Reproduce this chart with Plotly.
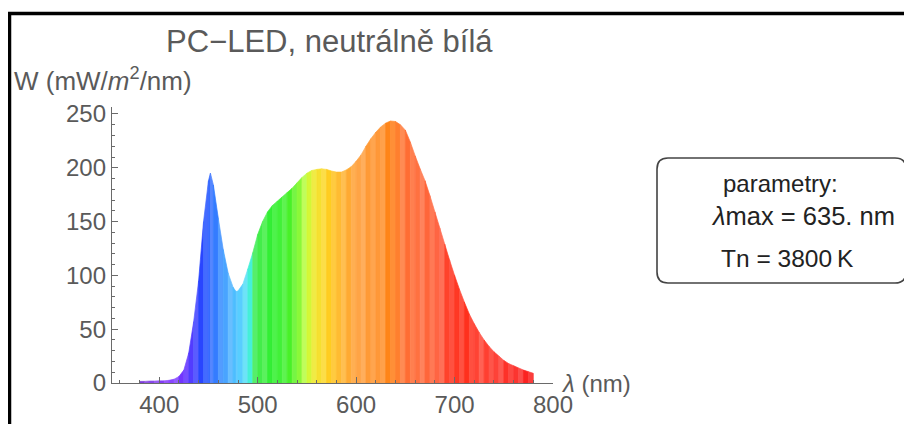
import plotly.graph_objects as go

# ---------------- data ----------------
wavelengths = [380, 385, 390, 395, 400, 405, 410, 415, 420, 425, 430, 435, 440, 445,
               450, 452, 455, 460, 465, 470, 475, 478, 480, 485, 490, 495, 500, 505,
               510, 515, 520, 525, 530, 535, 540, 545, 550, 555, 560, 565, 570, 575,
               580, 585, 590, 595, 600, 605, 610, 615, 620, 625, 630, 635, 640, 645,
               650, 655, 660, 665, 670, 675, 680, 685, 690, 695, 700, 705, 710, 715,
               720, 725, 730, 735, 740, 745, 750, 755, 760, 765, 770, 775, 780]
irradiance = [1.5, 1.5, 1.8, 1.8, 2, 2, 2.5, 3.5, 6, 12, 28, 57, 95, 150,
              188, 195, 184, 153, 124, 102, 89, 85, 85.5, 92, 106, 121, 138, 150,
              159, 165, 169, 173, 177, 181, 186, 191, 195, 197.5, 198.5, 199, 198.5, 197,
              196, 196, 198, 201, 206, 212, 220, 227, 233, 238, 241.5, 243.5, 243, 240,
              235, 224, 211, 199, 188, 174, 159, 144, 129, 114, 100, 87, 75, 64,
              55, 47, 40, 34, 29, 25, 21, 18, 16, 14, 12, 10.5, 9]
assert len(wavelengths) == len(irradiance)

title_text = "PC\u2212LED, neutrálně bílá"
y_title = "W (mW/<i>m</i><sup>2</sup>/nm)"
x_title = "<i>λ</i> (nm)"
box_lines = ["parametry:", "<i>λ</i>max = 635. nm", "Tn = 3800\u2009K"]

# ---------------- style ----------------
OFF = 8                      # page body margin
W, H = 912 - OFF, 424 - OFF
ML, MR, MT, MB = 112 - OFF, 359, 107 - OFF, 41
PW, PH = W - ML - MR, H - MT - MB
FONT = "Liberation Sans, Arial, sans-serif"
GRAY = "#5a5a5a"

# visible spectrum colour anchors (wavelength, rgb)
spec_anchor = [
    (380, (125, 60, 215)), (410, (135, 60, 255)), (425, (110, 50, 255)),
    (435, (60, 50, 255)), (445, (35, 75, 255)), (455, (50, 115, 255)),
    (465, (60, 150, 255)), (475, (75, 185, 255)), (485, (80, 210, 255)),
    (492, (70, 240, 230)), (498, (60, 235, 70)), (515, (50, 240, 50)),
    (530, (60, 240, 40)), (540, (110, 245, 40)), (550, (200, 255, 60)),
    (558, (240, 230, 40)), (570, (255, 210, 30)), (585, (255, 180, 40)),
    (600, (255, 160, 60)), (620, (255, 150, 50)), (635, (255, 130, 20)),
    (650, (255, 110, 50)), (680, (255, 100, 60)), (695, (255, 60, 40)),
    (705, (255, 40, 20)), (730, (255, 65, 50)), (780, (250, 30, 30)),
]


def spec_color(lam, k):
    for (l0, c0), (l1, c1) in zip(spec_anchor[:-1], spec_anchor[1:]):
        if l0 <= lam <= l1:
            t = (lam - l0) / (l1 - l0)
            c = [c0[j] + t * (c1[j] - c0[j]) for j in range(3)]
            break
    else:
        c = list(spec_anchor[-1][1])
    f = [0.0, 0.13, 0.05, 0.18][k % 4]
    c = [v + (255 - v) * f for v in c]
    return "rgb(%d,%d,%d)" % tuple(int(round(v)) for v in c)


def P(px, py):
    """page pixel -> paper coordinates"""
    return (px - OFF - ML) / PW, (H - MB - (py - OFF)) / PH


fig = go.Figure()
for i in range(len(wavelengths) - 1):
    x0, x1 = wavelengths[i], wavelengths[i + 1]
    y0, y1 = irradiance[i], irradiance[i + 1]
    col = spec_color((x0 + x1) / 2, i)
    fig.add_trace(go.Scatter(
        x=[x0, x1, x1, x0, x0], y=[y0, y1, 0, 0, y0],
        mode="lines", fill="toself", fillcolor=col,
        line=dict(width=0.7, color=col),
        hoverinfo="skip", showlegend=False))

axis_common = dict(showgrid=False, zeroline=False, showline=True, automargin=False,
                   linecolor="#6a6a6a", linewidth=1.3, ticks="inside",
                   tickcolor="#6a6a6a", tickwidth=1.1,
                   tickfont=dict(family=FONT, size=24, color=GRAY))
fig.update_xaxes(range=[352, 800], dtick=100, tick0=0, ticklen=6,
                 minor=dict(dtick=20, tick0=0, ticklen=3, ticks="inside",
                            tickcolor="#6a6a6a"),
                 **axis_common)
fig.update_yaxes(range=[0, 256.5], dtick=50, tick0=0, ticklen=6,
                 minor=dict(dtick=10, tick0=0, ticklen=3, ticks="inside",
                            tickcolor="#6a6a6a"),
                 **axis_common)


def ann(px, py, text, size, color, xanchor):
    qx, qy = P(px, py)
    return dict(x=qx, y=qy, xref="paper", yref="paper", text=text,
                showarrow=False, xanchor=xanchor, yanchor="middle",
                font=dict(family=FONT, size=size, color=color))


annotations = [
    ann(329, 41, title_text, 31, GRAY, "center"),
    ann(12, 79, y_title, 26, GRAY, "left"),
    ann(559, 383, x_title, 24, GRAY, "left"),
]
for txt, (px, py), sz in zip(box_lines, [(721, 183), (709, 216), (719, 258)],
                             [24, 25.5, 24.5]):
    annotations.append(ann(px, py, txt, sz, "#222", "left"))

# rounded legend box path
bx0, by0, bx1, by1, r = 657, 158, 906, 283, 11


def pt(px, py):
    a, b = P(px, py)
    return "%.5f,%.5f" % (a, b)


path = ("M" + pt(bx0 + r, by0) + " L" + pt(bx1 - r, by0) +
        " Q" + pt(bx1, by0) + " " + pt(bx1, by0 + r) +
        " L" + pt(bx1, by1 - r) +
        " Q" + pt(bx1, by1) + " " + pt(bx1 - r, by1) +
        " L" + pt(bx0 + r, by1) +
        " Q" + pt(bx0, by1) + " " + pt(bx0, by1 - r) +
        " L" + pt(bx0, by0 + r) +
        " Q" + pt(bx0, by0) + " " + pt(bx0 + r, by0) + " Z")

fx0, fy0 = P(9.5, 13.5)
fx1, fy1 = P(960, 470)
shapes = [
    dict(type="path", xref="paper", yref="paper", path=path,
         line=dict(color="#444", width=1.6), fillcolor="rgba(0,0,0,0)"),
    dict(type="rect", xref="paper", yref="paper", x0=fx0, y0=fy1, x1=fx1, y1=fy0,
         line=dict(color="black", width=3.5), fillcolor="rgba(0,0,0,0)"),
]

fig.update_layout(width=W, height=H, margin=dict(l=ML, r=MR, t=MT, b=MB),
                  paper_bgcolor="white", plot_bgcolor="white",
                  annotations=annotations, shapes=shapes, showlegend=False)
fig.write_html("out.html")
